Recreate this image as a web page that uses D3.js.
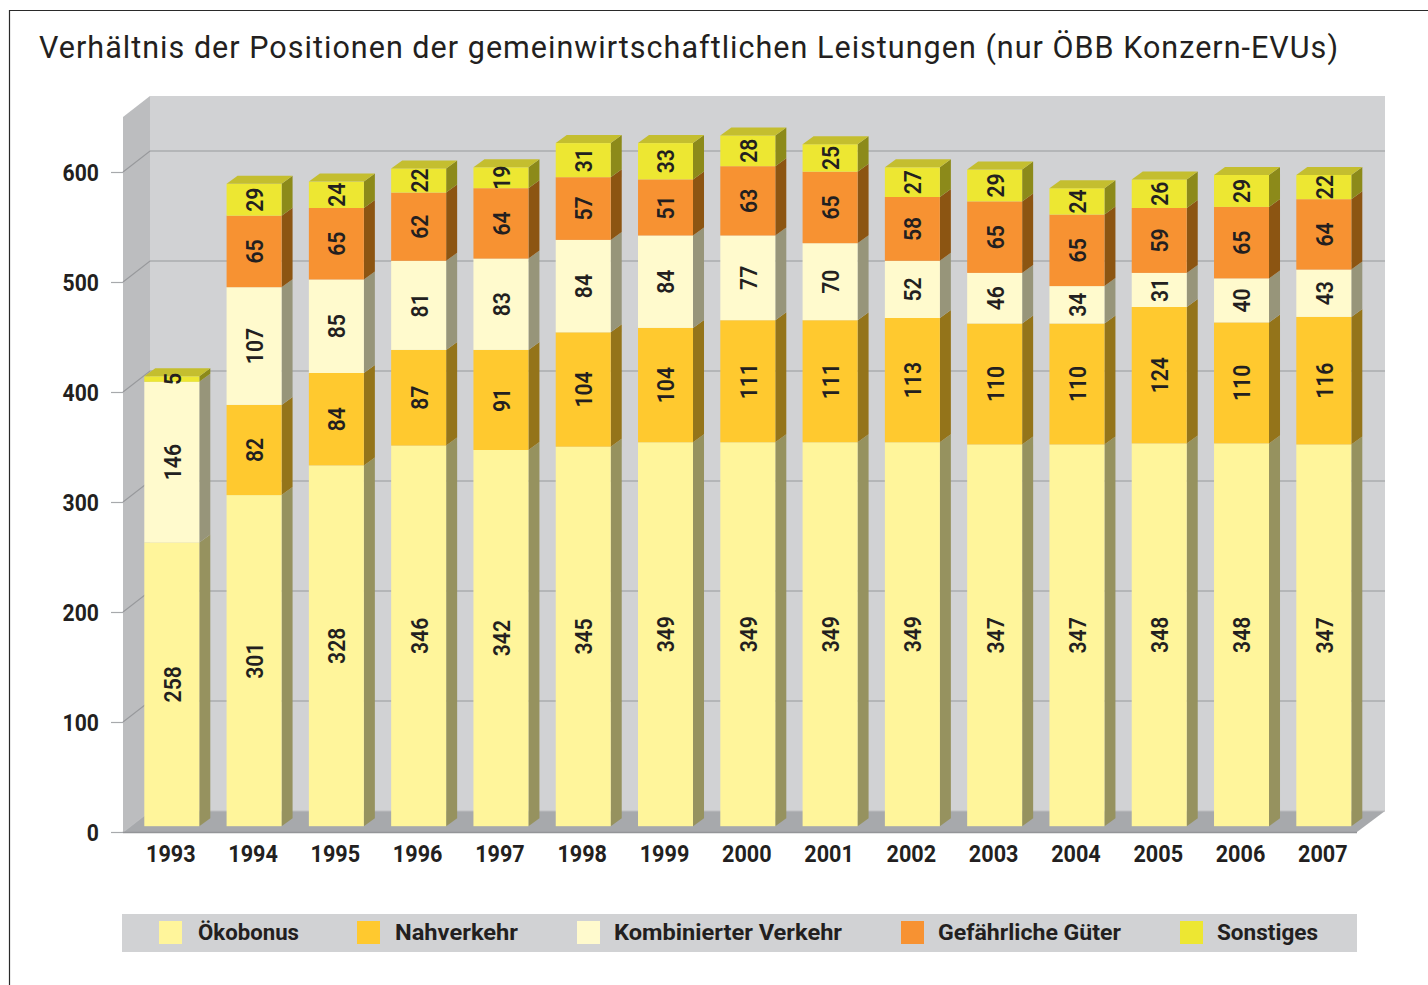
<!DOCTYPE html>
<html><head><meta charset="utf-8"><script src="https://cdn.jsdelivr.net/npm/d3@7"></script>
<style>html,body{margin:0;padding:0;background:#fff;overflow:hidden}svg{display:block}text{font-family:Roboto,sans-serif;fill:#231f20}</style>
</head><body><svg id="c" width="1428" height="985"></svg>
<script>
const years=["1993","1994","1995","1996","1997","1998","1999","2000","2001","2002","2003","2004","2005","2006","2007"];
const oekobonus=[258,301,328,346,342,345,349,349,349,349,347,347,348,348,347];
const nahverkehr=[0,82,84,87,91,104,104,111,111,113,110,110,124,110,116];
const kombiniert=[146,107,85,81,83,84,84,77,70,52,46,34,31,40,43];
const gefaehrlich=[0,65,65,62,64,57,51,63,65,58,65,65,59,65,64];
const sonstiges=[5,29,24,22,19,31,33,28,25,27,29,24,26,29,22];
const seriesNames=["Ökobonus","Nahverkehr","Kombinierter Verkehr","Gefährliche Güter","Sonstiges"];
const seriesValues=[oekobonus,nahverkehr,kombiniert,gefaehrlich,sonstiges];
const yTicks=[0,100,200,300,400,500,600];
const title="Verhältnis der Positionen der gemeinwirtschaftlichen Leistungen (nur ÖBB Konzern-EVUs)";

const front=["#FFF59B","#FFC92F","#FFFACD","#F79232","#EDE732"];
const side=["#96925F","#94741A","#97957A","#8C5512","#8C8A1A"];
const topFace="#C4BE2F";
const svg=d3.select("#c");
const y=d3.scaleLinear().domain([0,600]).range([832,172]);
const x=d3.scaleBand().domain(years).range([144.3,1351.3]).paddingInner(0.3317).paddingOuter(0);
const DX=27,DY=21,L=123,R=1357,bx=11,by=8,base=-5.8;
const poly=(p,f)=>svg.append("polygon").attr("points",p.map(d=>d.join(",")).join(" ")).attr("fill",f);

// frame
svg.append("path").attr("d","M9.5,985V10.5H1428").attr("fill","none").attr("stroke","#2a2a2a").attr("stroke-width",1.2);
svg.append("text").text(title).attr("x",39).attr("y",58).attr("font-size",30.5).attr("font-weight",400).attr("textLength",1299).attr("lengthAdjust","spacing");

// walls
poly([[L+DX,96],[1385,96],[1385,y(0)-DY],[L+DX,y(0)-DY]],"#D1D2D4");
poly([[L,117],[L+DX,96],[L+DX,y(0)-DY],[L,y(0)]],"#BCBDBF");
poly([[L,y(0)],[L+DX,y(0)-DY],[1385,y(0)-DY],[R,y(0)]],"#A7A9AC");
yTicks.forEach(t=>{
  const yy=y(t);
  svg.append("path").attr("d",`M${L},${yy}L${L+DX},${yy-DY}H1385`).attr("fill","none").attr("stroke",t?"#98999C":"#BDBEC0").attr("stroke-width",1.2);
});
svg.append("line").attr("x1",L).attr("x2",R).attr("y1",y(0)+.5).attr("y2",y(0)+.5).attr("stroke","#939598").attr("stroke-width",1.4);

// axes
const ya=svg.append("g").attr("transform",`translate(${L},0)`).call(d3.axisLeft(y).tickValues(yTicks).tickSize(12).tickPadding(13));
ya.select(".domain").remove();
ya.selectAll("line").attr("stroke","#A7A9AC").attr("stroke-width",1.2);
ya.selectAll("text").attr("x",0).attr("transform","translate(-24,0.7) scale(.92,1)").attr("font-size",23).attr("font-weight",700).style("font-family","Roboto,sans-serif").style("fill","#231f20");
const xa=svg.append("g").attr("transform","translate(0,832)").call(d3.axisBottom(x).tickSize(0).tickPadding(13));
xa.select(".domain").remove();
xa.selectAll("text").attr("transform","translate(-1,0) scale(.92,1)").attr("font-size",23.5).attr("font-weight",700).style("font-family","Roboto,sans-serif").style("fill","#231f20");

// bars
const rows=years.map((yr,i)=>{const o={year:yr};seriesNames.forEach((n,k)=>o[n]=seriesValues[k][i]);return o;});
const stacked=d3.stack().keys(seriesNames)(rows);
years.forEach((yr,i)=>{
  const x0=x(yr),x1=x0+x.bandwidth();
  const g=[];
  stacked.forEach((s,k)=>{
    const [a,b]=s[i];
    if(b-a<=0)return;
    const ya=y(a)+base,yb=y(b)+base;
    poly([[x1,ya],[x1+bx,ya-by],[x1+bx,yb-by],[x1,yb]],side[k]);
    svg.append("rect").attr("x",x0).attr("y",yb).attr("width",x1-x0).attr("height",ya-yb).attr("fill",front[k]);
    g.push({v:b-a,m:(ya+yb)/2,top:yb});
  });
  const t=g[g.length-1].top;
  poly([[x0,t],[x0+bx,t-by],[x1+bx,t-by],[x1,t]],topFace);
  g.forEach(d=>{
    svg.append("text").text(d.v)
      .attr("transform",`translate(${x0+x.bandwidth()/2+1},${d.m}) rotate(-90) scale(.88,1)`)
      .attr("text-anchor","middle").attr("dominant-baseline","central")
      .attr("font-size",24).attr("font-weight",600);
  });
});

// legend
svg.append("rect").attr("x",122).attr("y",914).attr("width",1235).attr("height",38).attr("fill","#D1D2D4");
const legendSwatchX=[159,357,577,901,1180];
const legendTextX=[198,395,614,938,1217];
const legendTextW=[101,123,228,183,101];
seriesNames.forEach((n,k)=>{
  svg.append("rect").attr("x",legendSwatchX[k]).attr("y",921).attr("width",23).attr("height",23).attr("fill",front[k]);
  svg.append("text").text(n).attr("x",legendTextX[k]).attr("y",940).attr("font-size",22).attr("font-weight",700)
    .attr("textLength",legendTextW[k]).attr("lengthAdjust","spacingAndGlyphs");
});
</script></body></html>
